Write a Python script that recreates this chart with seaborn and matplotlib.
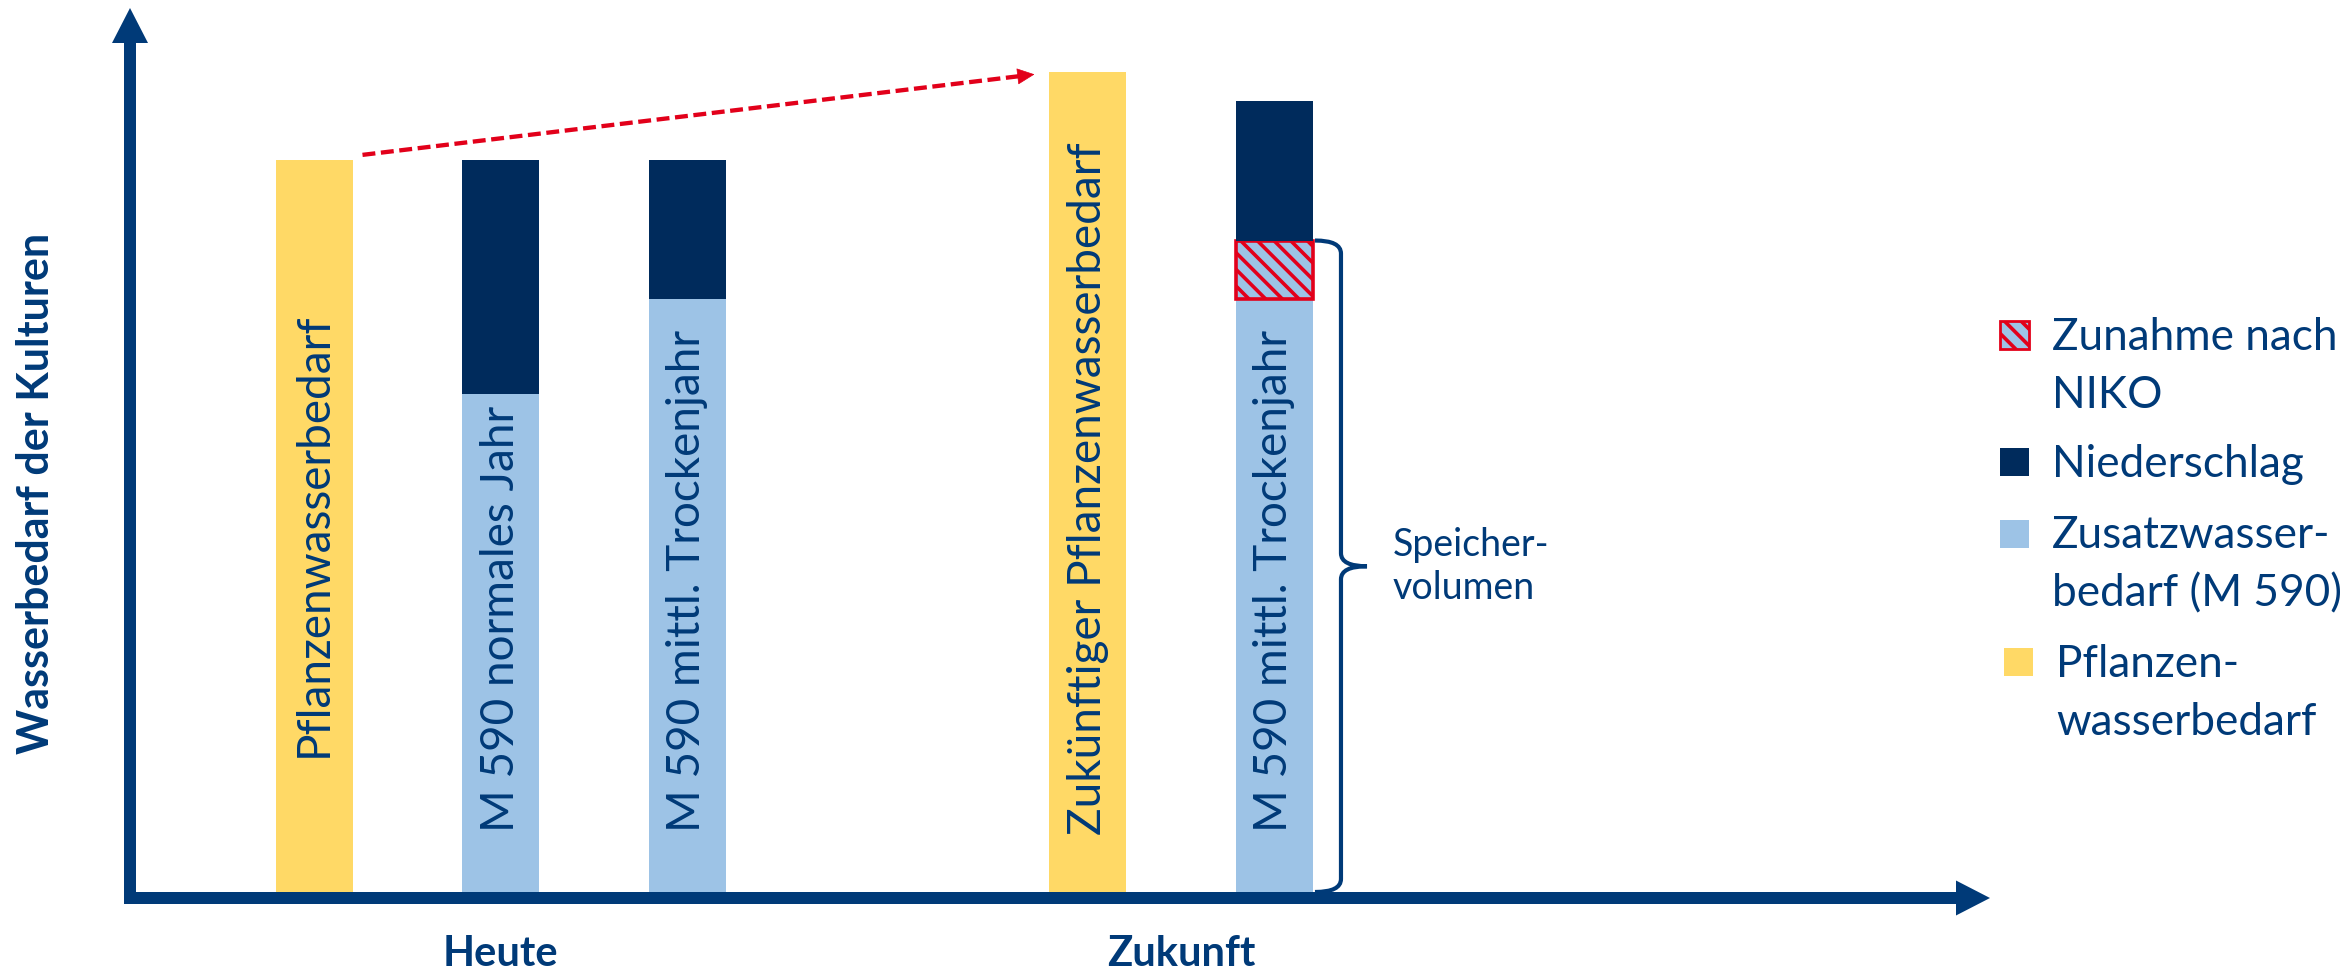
import numpy as np
import pandas as pd
import matplotlib
matplotlib.use("Agg")
import matplotlib.pyplot as plt
import matplotlib.transforms as mtransforms
from matplotlib.patches import FancyArrow, Rectangle, PathPatch
from matplotlib.path import Path
import seaborn as sns

# ---------------------------------------------------------------- data
groups = ["Heute", "Zukunft"]
scenarios = [
    "Pflanzenwasserbedarf",
    "M 590 normales Jahr",
    "M 590 mittl. Trockenjahr",
    "Zukünftiger Pflanzenwasserbedarf",
    "M 590 mittl. Trockenjahr",
]
scenario_group = ["Heute", "Heute", "Heute", "Zukunft", "Zukunft"]
pflanzenbedarf = [100, 112]      # crop water demand: today, future
zusatzwasser = [68, 81, 81]      # supplementary irrigation (M 590)
niederschlag = [32, 19, 19]      # share covered by precipitation
zunahme_niko = [8]               # increase according to NIKO (future dry year)
legend_labels = [
    "Zunahme nach\nNIKO",
    "Niederschlag",
    "Zusatzwasser-\nbedarf (M 590)",
    "Pflanzen-\nwasserbedarf",
]
speicher_label = "Speicher-\nvolumen"
y_label = "Wasserbedarf der Kulturen"

# ---------------------------------------------------------------- layout
slot_x = [0.0, 1.0, 2.0, 4.15, 5.15]   # x position of each scenario column
demand_slots = [0, 3]
m590_slots = [1, 2, 4]
niko_slots = [4]
label_start = [18.4, 8.2, 8.2, 7.8, 8.2]  # where the text inside each bar begins

YELLOW = "#FFD966"
LIGHT = "#9DC3E6"
DARK = "#002B5C"
RED = "#E2001A"
NAVY = "#003A78"

W, H, DPI = 2351, 975, 100
AX_L, AX_R, AX_T, AX_B = 130, 1990, 8, 898      # plot frame in pixels
X0_PX, SLOT_PX = 314, 186.5                      # x=0 position and px per x unit
Y0_PX, UNIT_PX = 892, 7.32                       # y=0 position and px per y unit
BAR_W = 77 / SLOT_PX

sns.set_theme(style="white")
plt.rcParams["font.family"] = ["Lato", "DejaVu Sans"]
plt.rcParams["hatch.linewidth"] = 2.6

fig = plt.figure(figsize=(W / DPI, H / DPI), dpi=DPI)
ax = fig.add_axes([AX_L / W, 1 - AX_B / H, (AX_R - AX_L) / W, (AX_B - AX_T) / H])

# transform for pixel coordinates measured from the top-left corner
tpx = mtransforms.Affine2D().scale(1 / W, -1 / H).translate(0, 1) + fig.transFigure


def bars(slots, heights, bottoms=None, **kw):
    xs = [slot_x[i] for i in slots]
    uniq = np.unique(xs)
    unit = np.min(np.diff(uniq)) if len(uniq) > 1 else 1.0
    df = pd.DataFrame({"x": xs, "y": heights})
    extra = {} if bottoms is None else {"bottom": bottoms}
    sns.barplot(data=df, x="x", y="y", orient="x", native_scale=True,
                width=BAR_W / unit, errorbar=None, saturation=1, ax=ax,
                **extra, **kw)


# crop water demand (yellow)
bars(demand_slots, pflanzenbedarf, color=YELLOW, linewidth=0)
# supplementary water (light blue)
bars(m590_slots, zusatzwasser, color=LIGHT, linewidth=0)
# NIKO increase on top of the future supplementary water (hatched)
bars(niko_slots, zunahme_niko, bottoms=[zusatzwasser[2]],
     color=LIGHT, edgecolor=RED, hatch="\\\\", linewidth=2.6)
# precipitation on top
dark_bottom = [zusatzwasser[0], zusatzwasser[1], zusatzwasser[2] + zunahme_niko[0]]
bars(m590_slots, niederschlag, bottoms=dark_bottom, color=DARK, linewidth=0)

ax.set_xlim((AX_L - X0_PX) / SLOT_PX, (AX_R - X0_PX) / SLOT_PX)
ax.set_ylim((Y0_PX - AX_B) / UNIT_PX, (Y0_PX - AX_T) / UNIT_PX)

# rotated scenario names inside the bars
for i, name in enumerate(scenarios):
    ax.text(slot_x[i], label_start[i], name, rotation=90, ha="center", va="bottom",
            fontsize=33, color=NAVY)

# group labels on the x axis
group_pos = [np.mean([slot_x[i] for i, g in enumerate(scenario_group) if g == grp])
             for grp in groups]
ax.set_xticks(group_pos)
ax.set_xticklabels(groups, fontsize=30, fontweight="bold", color=NAVY)
ax.tick_params(axis="x", length=0, pad=27)
ax.set_yticks([])
ax.set_xlabel("")
ax.set_ylabel(y_label, fontsize=31, fontweight="bold", color=NAVY)
ax.yaxis.set_label_coords((36 - AX_L) / (AX_R - AX_L), (AX_B - 493) / (AX_B - AX_T))
ax.yaxis.label.set_va("center")
for s in ax.spines.values():
    s.set_visible(False)
ax.set_facecolor("none")

# dashed growth arrow between the two demand bars
sx = 1 / SLOT_PX
start = (slot_x[0] + BAR_W / 2 + 10 * sx, pflanzenbedarf[0] + 0.7)
tip = (slot_x[3] - BAR_W / 2 - 15 * sx, pflanzenbedarf[1] - 0.3)
frac = 1 - 16 / np.hypot((tip[0] - start[0]) * SLOT_PX, (tip[1] - start[1]) * UNIT_PX)
base = (start[0] + frac * (tip[0] - start[0]), start[1] + frac * (tip[1] - start[1]))
ax.plot([start[0], base[0]], [start[1], base[1]], color=RED, lw=3.1,
        dashes=(3.0, 1.3), solid_capstyle="butt", dash_capstyle="butt")
ax.annotate("", xy=tip, xytext=base,
            arrowprops=dict(arrowstyle="-|>,head_length=11.5,head_width=5.4",
                            mutation_scale=1, color=RED, lw=0.5,
                            shrinkA=0, shrinkB=0))

# curly brace marking the storage volume
sy = 1 / UNIT_PX
x_edge = slot_x[4] + BAR_W / 2 + 2 * sx
x_line = x_edge + 26 * sx
x_tip = x_edge + 52 * sx
y_top = zusatzwasser[2] + zunahme_niko[0]
y_bot = 0.0
y_mid = (y_top + y_bot) / 2
r = 13 * sy
verts = [
    (x_edge, y_top), (x_line, y_top), (x_line, y_top - r),
    (x_line, y_mid + r),
    (x_line, y_mid), (x_tip, y_mid),
    (x_line, y_mid), (x_line, y_mid - r),
    (x_line, y_bot + r),
    (x_line, y_bot), (x_edge, y_bot),
]
codes = [Path.MOVETO, Path.CURVE3, Path.CURVE3,
         Path.LINETO,
         Path.CURVE3, Path.CURVE3,
         Path.CURVE3, Path.CURVE3,
         Path.LINETO,
         Path.CURVE3, Path.CURVE3]
ax.add_patch(PathPatch(Path(verts, codes), facecolor="none", edgecolor=NAVY,
                       lw=3.0, clip_on=False))
ax.text(x_tip + 26 * sx, y_mid, speicher_label, ha="left", va="center",
        fontsize=27, color=NAVY, linespacing=1.25)

# axis arrows
fig.add_artist(FancyArrow(130, AX_B + 6, 0, AX_T - (AX_B + 6), width=12,
                          head_width=36, head_length=35, length_includes_head=True,
                          color=NAVY, lw=0, transform=tpx))
fig.add_artist(FancyArrow(124, AX_B, AX_R - 124, 0, width=12,
                          head_width=35, head_length=34, length_includes_head=True,
                          color=NAVY, lw=0, transform=tpx))

# legend
legend_styles = [
    dict(facecolor=LIGHT, edgecolor=RED, hatch="\\\\", lw=2.0),
    dict(facecolor=DARK, lw=0),
    dict(facecolor=LIGHT, lw=0),
    dict(facecolor=YELLOW, lw=0),
]
legend_box = [(2000, 321), (2000, 448), (2000, 520), (2004, 648)]
legend_base = [350, 477, 548, 677]
legend_text_x = [2052, 2052, 2052, 2056]
LINE_GAP = 58
for lab, sty, (bx, by), bl, tx in zip(legend_labels, legend_styles, legend_box,
                                      legend_base, legend_text_x):
    fig.add_artist(Rectangle((bx, by), 29, 28, transform=tpx, **sty))
    for k, line in enumerate(lab.split("\n")):
        fig.text(tx, bl + k * LINE_GAP, line, transform=tpx, ha="left",
                 va="baseline", fontsize=31.8, color=NAVY)

fig.savefig("out.png", dpi=DPI)
